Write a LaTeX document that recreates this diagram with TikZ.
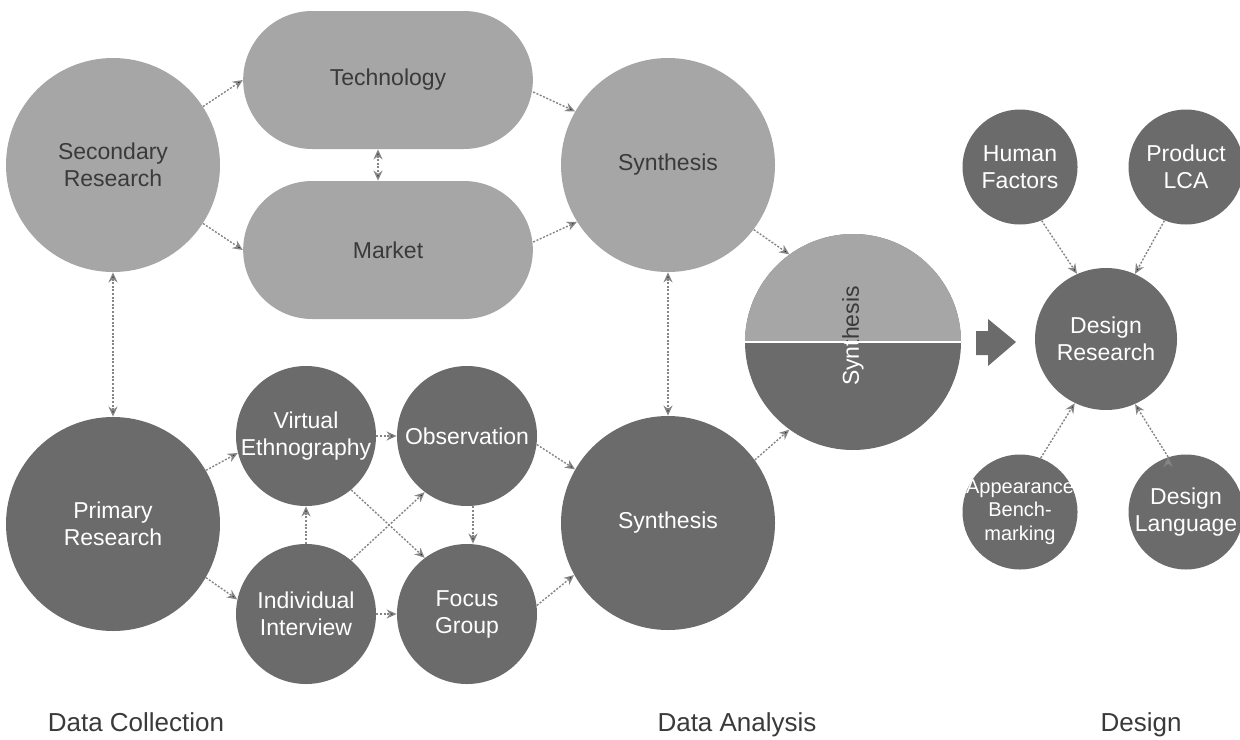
\documentclass[tikz,border=0pt]{standalone}
\usepackage{fontspec}
\setmainfont{Liberation Sans}
\usetikzlibrary{positioning, arrows.meta, shapes.misc}

\definecolor{lite}{HTML}{A6A6A6}
\definecolor{dark}{HTML}{6B6B6B}
\definecolor{ink}{HTML}{3A3A3A}
\definecolor{seta}{HTML}{858585}

\begin{document}
\begin{tikzpicture}[x=0.5pt, y=-0.5pt, >={Stealth[length=5pt, width=4.5pt]}, on grid,
	every node/.style={font=\fontsize{11.5}{13.5}\selectfont, align=center},
	bigc/.style={circle, minimum size=107pt, inner sep=-8pt},
	midc/.style={circle, minimum size=70pt, inner sep=-8pt},
	smallc/.style={circle, minimum size=57.5pt, inner sep=-8pt},
	claro/.style={fill=lite, text=ink},
	escuro/.style={fill=dark, text=white},
	pill/.style={rounded rectangle, minimum width=151.5pt, minimum height=69pt, fill=lite, text=ink},
	link/.style={draw=seta, line width=0.7pt, dash pattern=on 1pt off 0.8pt},
	titulo/.style={font=\fontsize{13}{15}\selectfont, text=ink, anchor=base}]
	\fill[white] (0,0) rectangle (1240,739);
	\useasboundingbox (0,0) rectangle (1240,739);

	%Coleta de dados:
	\node[bigc, claro]		(sec)						at (113,165)	{Secondary\\Research};
	\node[pill]				(tec)						at (388,80)		{Technology};
	\node[pill]				(mkt) [below=85pt of tec]					{Market};
	\node[bigc, escuro]		(pri) [below=179.5pt of sec]				{Primary\\Research};
	\node[midc, escuro]		(vet)						at (306,436)	{Virtual\\Ethnography};
	\node[midc, escuro]		(obs) [right=80.5pt of vet]					{Observation};
	\node[midc, escuro]		(ind) [below=89pt of vet]					{Individual\\Interview};
	\node[midc, escuro]		(foc) [below=89pt of obs]					{Focus\\Group};

	%Analise:
	\node[bigc, claro]		(sin1)						at (668,165)	{Synthesis};
	\node[bigc, escuro]		(sin2) [below=179pt of sin1]				{Synthesis};
	\node[bigc, fill=dark, minimum size=108pt] (mix)	at (853,342)	{};
	\begin{scope}
		\clip (mix.west |- mix.north) rectangle (mix.east);
		\fill[lite] (mix.center) circle[radius=54pt];
		\node[rotate=90, text=ink] at ([yshift=3pt]mix.center) {Synthesis};
	\end{scope}
	\begin{scope}
		\clip (mix.west) rectangle (mix.east |- mix.south);
		\node[rotate=90, text=white] at ([yshift=3pt]mix.center) {Synthesis};
	\end{scope}
	\draw[white, line width=1pt] (mix.west) -- (mix.east);
	\fill[dark] (976,331) -- (988,331) -- (988,319) -- (1016,342) -- (988,366) -- (988,355) -- (976,355) -- cycle;

	%Design:
	\node[midc, escuro, minimum size=71pt] (dr)			at (1106,339)	{Design\\Research};
	\node[smallc, escuro]	(hf)						at (1020,167)	{Human\\Factors};
	\node[smallc, escuro]	(lca) [right=83pt of hf]					{Product\\LCA};
	\node[smallc, escuro, font=\fontsize{10}{11.75}\selectfont] (ab) at (1020,512) {Appearance\\Bench-\\marking};
	\node[smallc, escuro]	(dl) [right=83pt of ab]						{Design\\Language};

	\node[titulo]			(t1)						at (136,731)	{Data Collection};
	\node[titulo]			(t2)						at (737,731)	{Data Analysis};
	\node[titulo]			(t3)						at (1141,731)	{Design};

	%Setas:
	\path[->, link]
	(sec.33)					edge				(tec.west)
	(sec.-33)					edge				(mkt.west)
	([xshift=-5pt]tec.south)	edge [<->]			([xshift=-5pt]mkt.north)
	([yshift=-6pt]tec.east)		edge				(sin1.150)
	([yshift=4pt]mkt.east)		edge				(sin1.212)
	(sec.south)					edge [<->]			(pri.north)
	(sin1.south)				edge [<->]			(sin2.north)
	(sin1.-37)					edge				(mix.126)
	(sin2.36)					edge				(mix.234)
	(pri.30)					edge				(vet.194)
	(pri.-30)					edge				(ind.168)
	(vet.east)					edge				(obs.west)
	(ind.north)					edge				(vet.south)
	(ind.50)					edge				(obs.233)
	(vet.-50)					edge				(foc.127)
	([xshift=3pt]obs.south)		edge				([xshift=3pt]foc.north)
	(ind.east)					edge				(foc.west)
	(obs.-7)					edge				(sin2.150)
	(foc.7)						edge				(sin2.209)
	(hf.-68)					edge				(dr.114)
	(lca.-112)					edge				(dr.66)
	(ab.69)						edge				(dr.244)
	(dl.108)					edge				(dr.294);
\end{tikzpicture}
\end{document}
